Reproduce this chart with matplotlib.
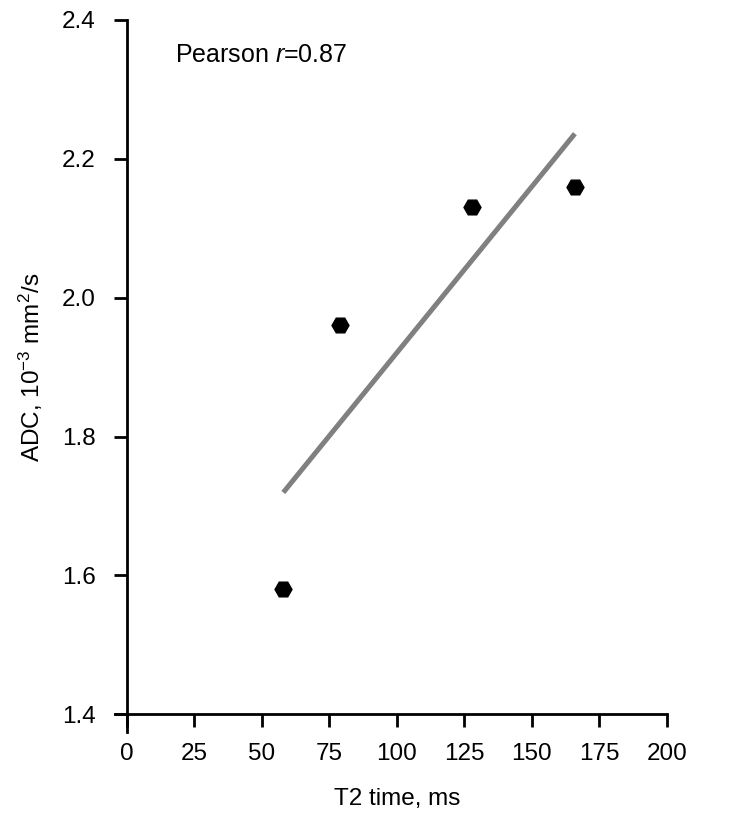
import numpy as np
import matplotlib
matplotlib.use("Agg")
import matplotlib.pyplot as plt

plt.rcParams["font.family"] = ["Liberation Sans", "DejaVu Sans"]
plt.rcParams["mathtext.fontset"] = "custom"
plt.rcParams["mathtext.rm"] = "Liberation Sans"
plt.rcParams["mathtext.it"] = "Liberation Sans:italic"

# data
t2_time = [58, 79, 128, 166]
adc = [1.58, 1.96, 2.13, 2.16]
pearson_r = 0.87
x_ticks = [0, 25, 50, 75, 100, 125, 150, 175, 200]
y_ticks = [1.4, 1.6, 1.8, 2.0, 2.2, 2.4]

fig = plt.figure(figsize=(7.41, 8.15), dpi=100)
ax = fig.add_axes([0.171, 0.1236, 0.7287, 0.8519])

# regression line over the data range
slope, intercept = np.polyfit(t2_time, adc, 1)
xs = np.array([min(t2_time), max(t2_time)])
ax.plot(xs, slope * xs + intercept, color="#808080", lw=3.6,
        solid_capstyle="butt", zorder=2)

ax.plot(t2_time, adc, linestyle="none", marker="H", markersize=12.2,
        color="black", zorder=3)

ax.set_xlim(0, 200)
ax.set_ylim(1.4, 2.4)
ax.set_xticks(x_ticks)
ax.set_xticklabels([str(v) for v in x_ticks])
ax.set_yticks(y_ticks)
ax.set_yticklabels([f"{v:.1f}" for v in y_ticks])

for side in ["top", "right"]:
    ax.spines[side].set_visible(False)
for side in ["left", "bottom"]:
    ax.spines[side].set_linewidth(2)
# axis lines run a little past the origin, as in the source
ax.spines["bottom"].set_bounds(-4.4, 200)
ax.spines["left"].set_bounds(1.3745, 2.4)

ax.tick_params(axis="both", direction="out", length=9.5, width=2,
               labelsize=17.5, color="black")
ax.tick_params(axis="x", pad=11)
ax.tick_params(axis="y", pad=13)

ax.set_xlabel("T2 time, ms", fontsize=17.5, labelpad=17)
ax.set_ylabel("ADC, 10$^{\u22123}$ mm$^{2}$/s", fontsize=17.5, labelpad=12)

ax.text(0.09, 0.95, "Pearson $r$=" + f"{pearson_r:.2f}", transform=ax.transAxes,
        fontsize=18, ha="left", va="center")

fig.savefig("out.png", dpi=100)
